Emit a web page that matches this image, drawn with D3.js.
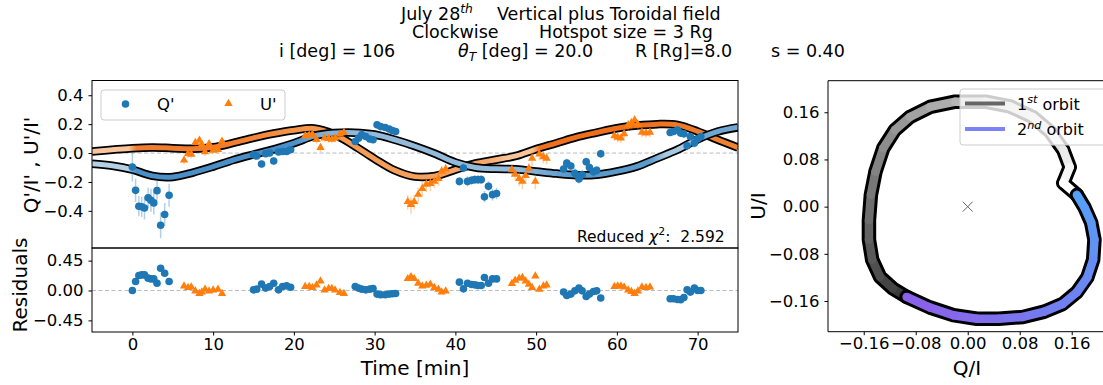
<!DOCTYPE html>
<html>
<head>
<meta charset="utf-8">
<script src="https://cdn.jsdelivr.net/npm/d3@7"></script>
<style>
  body { margin: 0; background: #fff; }
  text { font-family: "DejaVu Sans", sans-serif; white-space: pre; }
</style>
</head>
<body>
<div id="container"></div>
<script>
'use strict'

// ---------- data ----------
// Q'/I' points: time [min], value, error, residual
const qTime = [0.0,0.4,0.8,1.15,1.5,1.95,2.3,2.65,3.05,3.5,4.0,4.55,
  15.0,15.4,16.0,16.5,17.0,17.5,18.1,18.6,19.1,19.6,
  27.6,28.0,28.4,28.9,29.4,29.8,30.3,30.75,31.3,31.8,32.2,32.6,
  40.5,41.0,41.5,42.0,42.4,42.8,43.2,43.6,44.1,44.6,45.1,
  53.4,53.8,54.3,54.8,55.3,55.7,56.2,56.6,57.1,57.5,58.0,
  66.6,67.0,67.5,67.9,68.3,68.7,69.1,69.6,70.0,70.4];
const qVal = [-0.097,-0.258,-0.368,-0.372,-0.38,-0.31,-0.327,-0.345,-0.26,-0.50,-0.425,-0.292,
  -0.012,-0.02,-0.076,-0.005,0.0,-0.055,0.007,0.011,0.011,0.023,
  0.08,0.103,0.126,0.114,0.097,0.092,0.195,0.183,0.177,0.166,0.156,0.149,
  -0.196,-0.103,-0.196,-0.189,-0.184,-0.184,-0.184,-0.303,-0.23,-0.288,-0.28,
  -0.11,-0.07,-0.09,-0.14,-0.18,-0.15,-0.06,-0.1,-0.13,-0.12,-0.005,
  0.142,0.149,0.16,0.138,0.133,0.05,0.114,0.069,0.097,0.114];
const qErr = [0.1,0.08,0.07,0.07,0.08,0.07,0.08,0.08,0.07,0.09,0.08,0.08,
  0.025,0.02,0.025,0.02,0.02,0.025,0.02,0.02,0.02,0.02,
  0.02,0.02,0.02,0.025,0.02,0.02,0.02,0.02,0.02,0.02,0.02,0.02,
  0.03,0.03,0.035,0.03,0.03,0.03,0.03,0.04,0.035,0.04,0.04,
  0.03,0.03,0.03,0.035,0.03,0.035,0.03,0.03,0.03,0.03,0.03,
  0.025,0.025,0.025,0.025,0.025,0.03,0.025,0.03,0.025,0.025];
const qRes = [0.0,0.135,0.225,0.235,0.235,0.186,0.175,0.175,0.11,0.335,0.26,0.135,
  0.01,0.02,0.096,0.036,0.06,0.11,0.01,0.06,0.07,0.05,
  0.06,0.036,0.02,0.01,0.02,0.03,-0.054,-0.065,-0.065,-0.054,-0.05,-0.045,
  0.126,0.025,0.11,0.09,0.085,0.075,0.075,0.195,0.11,0.175,0.175,
  -0.024,-0.075,-0.054,-0.005,0.036,-0.005,-0.09,-0.054,-0.015,-0.005,-0.114,
  -0.124,-0.124,-0.135,-0.14,-0.105,0.01,-0.024,0.036,0.0,0.0];

// U'/I' points
const uTime = [6.4,6.9,7.3,7.8,8.3,8.6,9.0,9.5,10.0,10.6,11.1,
  21.4,21.9,22.3,22.8,23.3,23.8,24.3,24.7,25.1,25.7,26.2,
  34.1,34.5,34.9,35.4,35.9,36.4,36.9,37.4,37.9,38.3,38.8,
  47.0,47.4,47.9,48.3,48.7,49.1,49.5,49.9,50.4,50.9,51.3,
  59.7,60.1,60.5,60.9,61.4,61.8,62.2,62.6,63.1,63.6,64.1];
const uVal = [-0.053,-0.007,-0.012,0.069,0.085,0.057,0.004,0.06,0.016,0.02,0.078,
  0.115,0.12,0.126,0.09,0.035,0.1,0.097,0.092,0.1,0.126,0.138,
  -0.34,-0.36,-0.34,-0.29,-0.25,-0.22,-0.215,-0.2,-0.18,-0.13,-0.115,
  -0.12,-0.15,-0.18,-0.2,-0.16,-0.11,-0.04,-0.2,-0.01,-0.03,-0.04,
  0.115,0.105,0.1,0.13,0.19,0.205,0.225,0.195,0.14,0.135,0.14];
const uErr = [0.025,0.025,0.025,0.025,0.025,0.025,0.025,0.025,0.025,0.025,0.025,
  0.025,0.025,0.025,0.025,0.03,0.025,0.025,0.025,0.025,0.025,0.025,
  0.05,0.06,0.05,0.05,0.05,0.05,0.05,0.04,0.05,0.04,0.04,
  0.04,0.04,0.05,0.05,0.04,0.04,0.05,0.05,0.04,0.04,0.04,
  0.03,0.03,0.03,0.03,0.035,0.035,0.035,0.03,0.03,0.03,0.03];
const uRes = [0.06,0.036,0.045,-0.015,-0.054,-0.03,0.01,-0.015,0.0,0.01,-0.054,
  0.05,0.05,0.036,0.075,0.135,0.0,0.02,0.02,0.0,-0.04,-0.054,
  0.17,0.2,0.17,0.1,0.06,0.07,0.085,0.036,0.01,-0.03,-0.015,
  0.096,0.145,0.175,0.186,0.135,0.085,0.036,0.21,0.01,0.06,0.075,
  0.05,0.06,0.06,0.045,0.0,-0.024,-0.054,-0.015,0.045,0.036,0.045];

// model curves
const modelTime = [-5,-2.5,0,2.5,5,7.5,10,12.5,15,17.5,20,22.5,25,27.5,30,32.5,35,37.5,40,42.5,45,47.5,50,52.5,55,57.5,60,62.5,65,67.5,70,72.5,75];
const modelQ = [-0.074,-0.088,-0.115,-0.158,-0.165,-0.135,-0.094,-0.048,-0.01,0.026,0.068,0.118,0.138,0.141,0.128,0.092,0.047,-0.005,-0.065,-0.1,-0.109,-0.112,-0.127,-0.142,-0.153,-0.15,-0.127,-0.092,-0.035,0.023,0.095,0.149,0.178];
const modelU = [0.011,0.023,0.034,0.039,0.034,0.03,0.04,0.07,0.105,0.135,0.158,0.17,0.13,0.05,-0.04,-0.12,-0.163,-0.158,-0.115,-0.072,-0.046,-0.02,0.027,0.068,0.11,0.142,0.172,0.19,0.2,0.195,0.15,0.092,0.038];

// Q/I - U/I loop
const orbit1Q = [-0.094,-0.115,-0.135,-0.147,-0.152,-0.152,-0.149,-0.142,-0.130,-0.112,-0.089,-0.058,-0.019,0.027,0.065,0.100,0.127,0.147,0.157,0.147,0.168];
const orbit1U = [-0.153,-0.139,-0.119,-0.090,-0.056,-0.023,0.020,0.059,0.099,0.130,0.152,0.169,0.178,0.178,0.170,0.152,0.127,0.096,0.067,0.040,0.020];
const orbit2Q = [0.168,0.180,0.190,0.195,0.193,0.184,0.168,0.146,0.118,0.085,0.048,0.014,-0.022,-0.058,-0.094];
const orbit2U = [0.020,-0.002,-0.027,-0.056,-0.090,-0.120,-0.145,-0.165,-0.178,-0.187,-0.190,-0.190,-0.184,-0.171,-0.153];

// ticks
const timeTicks = [0,10,20,30,40,50,60,70];
const polTicks = [-0.4,-0.2,0,0.2,0.4];
const resTicks = [-0.45,0,0.45];
const loopTicks = [-0.16,-0.08,0,0.08,0.16];

// ---------- drawing ----------
const w = 1103, h = 385;
const blue = "#1f77b4", orange = "#ff7f0e";
const svg = d3.select("#container").append("svg").attr("width", w).attr("height", h);
const defs = svg.append("defs");

const x = d3.scaleLinear().domain([-5, 75]).range([92, 738]);
const yTop = d3.scaleLinear().domain([-0.657, 0.502]).range([248, 80.5]);
const yRes = d3.scaleLinear().domain([-0.625, 0.64]).range([332, 248]);
const xR = d3.scaleLinear().domain([-0.215, 0.212]).range([828, 1105.5]);
const yR = d3.scaleLinear().domain([-0.212, 0.2135]).range([331.7, 80.7]);

// text with super / subscripts
function rich(g, px, py, parts, size, anchor) {
  const t = g.append("text").attr("x", px).attr("y", py).attr("font-size", size)
    .attr("text-anchor", anchor || "start").attr("fill", "#000");
  let shift = 0;
  parts.forEach(p => {
    const s = typeof p === "string" ? { t: p } : p;
    const want = s.sup ? -0.4 * size : s.sub ? 0.22 * size : 0;
    const ts = t.append("tspan").attr("dy", want - shift).text(s.t);
    if (s.sup || s.sub) ts.attr("font-size", size * 0.7);
    if (s.it) ts.attr("font-style", "italic");
    shift = want;
  });
  return t;
}

//Title
const tf = 17.5;
rich(svg, 401, 19.5, ["July 28", { t: "th", sup: true, it: true }], tf);
rich(svg, 497, 19.5, ["Vertical plus Toroidal field"], tf);
rich(svg, 412, 38, ["Clockwise"], tf);
rich(svg, 539, 38, ["Hotspot size = 3 Rg"], tf);
rich(svg, 279, 57, ["i [deg] = 106"], tf);
rich(svg, 458, 57, [{ t: "θ", it: true }, { t: "T", sub: true, it: true }, " [deg] = 20.0"], tf);
rich(svg, 635, 57, ["R [Rg]=8.0"], tf);
rich(svg, 771, 57, ["s = 0.40"], tf);

function styleAxis(g) {
  g.attr("font-size", 16.5).attr("font-family", "'DejaVu Sans', sans-serif");
  g.select(".domain").remove();
  g.selectAll(".tick line").attr("stroke", "#000");
  g.selectAll(".tick text").attr("fill", "#000");
}

// clip for the panels
defs.append("clipPath").attr("id", "clipTop").append("rect")
  .attr("x", 92).attr("y", 80.5).attr("width", 646).attr("height", 167.5);
defs.append("clipPath").attr("id", "clipRes").append("rect")
  .attr("x", 92).attr("y", 248).attr("width", 646).attr("height", 84);
defs.append("clipPath").attr("id", "clipLoop").append("rect")
  .attr("x", 828).attr("y", 80.7).attr("width", 280).attr("height", 251);

// zero lines
svg.append("line").attr("x1", 92).attr("x2", 738).attr("y1", yTop(0)).attr("y2", yTop(0))
  .attr("stroke", "#bbb").attr("stroke-dasharray", "4,2.5");
svg.append("line").attr("x1", 92).attr("x2", 738).attr("y1", yRes(0)).attr("y2", yRes(0))
  .attr("stroke", "#bbb").attr("stroke-dasharray", "4,2.5");

// model curves, shaded along time with a horizontal gradient
function gradient(id, stops) {
  const g = defs.append("linearGradient").attr("id", id).attr("gradientUnits", "userSpaceOnUse")
    .attr("x1", x(-5)).attr("x2", x(75)).attr("y1", 0).attr("y2", 0);
  stops.forEach(s => g.append("stop").attr("offset", (s[0] + 5) / 80).attr("stop-color", s[1]));
}
gradient("gradQ", [[-5, "#b3d0e6"], [-0.5, "#b3d0e6"], [0.5, "#4a8fc6"], [20, "#4a8fc6"], [23, "#7eaed3"],
  [28, "#92bada"], [48, "#92bada"], [54, "#5a9bcc"], [64, "#5a9bcc"], [66, "#a6c8e2"], [69.5, "#a6c8e2"], [71, "#6ea8d2"], [75, "#6ea8d2"]]);
gradient("gradU", [[-5, "#f9c59c"], [-0.5, "#f9c59c"], [0.5, "#f07d2e"], [12, "#f07d2e"], [20, "#f39448"],
  [44, "#f6a86a"], [46.5, "#f9c598"], [49.5, "#f9c598"], [50.5, "#ee6f1c"], [63, "#ee6f1c"], [75, "#f08535"]]);

const curveG = svg.append("g").attr("clip-path", "url(#clipTop)");
const modelLine = d3.line().x(d => x(d[0])).y(d => yTop(d[1])).curve(d3.curveCatmullRom);
[[modelU, "gradU"], [modelQ, "gradQ"]].forEach(m => {
  const pts = modelTime.map((t, i) => [t, m[0][i]]);
  curveG.append("path").attr("d", modelLine(pts)).attr("fill", "none").attr("stroke", "#000").attr("stroke-width", 8.5);
  curveG.append("path").attr("d", modelLine(pts)).attr("fill", "none").attr("stroke", "url(#" + m[1] + ")").attr("stroke-width", 5);
});

// error bars and points
const tri = d3.symbol().type(d3.symbolTriangle).size(30);
function drawSeries(g, times, vals, errs, color, shape, yScale) {
  if (errs) {
    g.selectAll(null).data(times).enter().append("line")
      .attr("x1", d => x(d)).attr("x2", d => x(d))
      .attr("y1", (d, i) => yScale(vals[i] - errs[i])).attr("y2", (d, i) => yScale(vals[i] + errs[i]))
      .attr("stroke", color).attr("stroke-opacity", 0.35).attr("stroke-width", 1.5);
  }
  if (shape === "circle") {
    g.selectAll(null).data(times).enter().append("circle")
      .attr("cx", d => x(d)).attr("cy", (d, i) => yScale(vals[i])).attr("r", 3.8).attr("fill", color);
  } else {
    g.selectAll(null).data(times).enter().append("path").attr("d", tri)
      .attr("transform", (d, i) => "translate(" + x(d) + "," + (yScale(vals[i]) - 0.5) + ")").attr("fill", color);
  }
}
const ptsG = svg.append("g").attr("clip-path", "url(#clipTop)");
drawSeries(ptsG, qTime, qVal, qErr, blue, "circle", yTop);
drawSeries(ptsG, uTime, uVal, uErr, orange, "tri", yTop);
const resG = svg.append("g").attr("clip-path", "url(#clipRes)");
drawSeries(resG, qTime, qRes, null, blue, "circle", yRes);
drawSeries(resG, uTime, uRes, null, orange, "tri", yRes);

// frames
svg.append("rect").attr("x", 92).attr("y", 80.5).attr("width", 646).attr("height", 167.5)
  .attr("fill", "none").attr("stroke", "#000");
svg.append("rect").attr("x", 92).attr("y", 248).attr("width", 646).attr("height", 84)
  .attr("fill", "none").attr("stroke", "#000");

//Axes
svg.append("g").attr("transform", "translate(92,0)")
  .call(d3.axisLeft(yTop).tickValues(polTicks).tickFormat(d3.format(".1f")).tickSize(3.5).tickPadding(5)).call(styleAxis);
svg.append("g").attr("transform", "translate(92,0)")
  .call(d3.axisLeft(yRes).tickValues(resTicks).tickFormat(d3.format(".2f")).tickSize(3.5).tickPadding(5)).call(styleAxis);
svg.append("g").attr("transform", "translate(0,332)")
  .call(d3.axisBottom(x).tickValues(timeTicks).tickFormat(d3.format("d")).tickSize(3.5).tickPadding(2.5)).call(styleAxis);

// legend (left)
svg.append("rect").attr("x", 101).attr("y", 90).attr("width", 184).attr("height", 30).attr("rx", 3)
  .attr("fill", "#fff").attr("fill-opacity", 0.8).attr("stroke", "#ccc");
svg.append("circle").attr("cx", 125.5).attr("cy", 104).attr("r", 3.8).attr("fill", blue);
rich(svg, 157, 110, ["Q'"], 16.5);
svg.append("path").attr("d", tri).attr("transform", "translate(228.5,103.5)").attr("fill", orange);
rich(svg, 260, 110, ["U'"], 16.5);

// reduced chi2
rich(svg, 577, 241.5, ["Reduced ", { t: "χ", it: true }, { t: "2", sup: true }, ":  2.592"], 15.5);

// axis labels
svg.append("text").attr("transform", "translate(38,165) rotate(-90)").attr("text-anchor", "middle")
  .attr("font-size", 20).text("Q'/I' , U'/I'");
svg.append("text").attr("transform", "translate(27,285) rotate(-90)").attr("text-anchor", "middle")
  .attr("font-size", 20).text("Residuals");
svg.append("text").attr("x", 415).attr("y", 375).attr("text-anchor", "middle")
  .attr("font-size", 20).text("Time [min]");

// ---------- Q/I - U/I loop ----------
const loopG = svg.append("g").attr("clip-path", "url(#clipLoop)");
function drawOrbit(qs, us, c0, c1) {
  const pts = qs.map((q, i) => [xR(q), yR(us[i])]);
  loopG.append("path").attr("d", d3.line()(pts)).attr("fill", "none").attr("stroke", "#000")
    .attr("stroke-width", 14.5).attr("stroke-linejoin", "round").attr("stroke-linecap", "round");
  const col = d3.interpolateRgb(c0, c1);
  for (let i = 0; i < pts.length - 1; i++) {
    loopG.append("line").attr("x1", pts[i][0]).attr("y1", pts[i][1]).attr("x2", pts[i + 1][0]).attr("y2", pts[i + 1][1])
      .attr("stroke", col(i / (pts.length - 2))).attr("stroke-width", 8.5).attr("stroke-linecap", "round");
  }
}
drawOrbit(orbit1Q, orbit1U, "#3a3a3a", "#ffffff");
drawOrbit(orbit2Q, orbit2U, "#55a0f7", "#8a62ea");

// centre cross
const cx0 = xR(0), cy0 = yR(0);
svg.append("path").attr("d", `M${cx0 - 5},${cy0 - 5}L${cx0 + 5},${cy0 + 5}M${cx0 - 5},${cy0 + 5}L${cx0 + 5},${cy0 - 5}`)
  .attr("stroke", "#666").attr("stroke-width", 1);

// loop frame (right spine is outside the window)
svg.append("path").attr("d", "M1110,80.7H828V331.7H1110").attr("fill", "none").attr("stroke", "#000");

svg.append("g").attr("transform", "translate(828,0)")
  .call(d3.axisLeft(yR).tickValues(loopTicks).tickFormat(d3.format(".2f")).tickSize(3.5).tickPadding(5)).call(styleAxis);
svg.append("g").attr("transform", "translate(0,331.7)")
  .call(d3.axisBottom(xR).tickValues(loopTicks).tickFormat(d3.format(".2f")).tickSize(3.5).tickPadding(2.5)).call(styleAxis);

// legend (right)
svg.append("rect").attr("x", 960).attr("y", 89).attr("width", 150).attr("height", 56).attr("rx", 3)
  .attr("fill", "#fff").attr("fill-opacity", 0.8).attr("stroke", "#ccc");
svg.append("line").attr("x1", 965).attr("x2", 1005).attr("y1", 103.5).attr("y2", 103.5).attr("stroke", "#666").attr("stroke-width", 4);
svg.append("line").attr("x1", 965).attr("x2", 1005).attr("y1", 129).attr("y2", 129).attr("stroke", "#7b84f7").attr("stroke-width", 4);
rich(svg, 1017, 109.5, ["1", { t: "st", sup: true, it: true }, " orbit"], 16);
rich(svg, 1017, 135, ["2", { t: "nd", sup: true, it: true }, " orbit"], 16);

svg.append("text").attr("transform", "translate(765,206) rotate(-90)").attr("text-anchor", "middle")
  .attr("font-size", 20).text("U/I");
svg.append("text").attr("x", 967).attr("y", 375).attr("text-anchor", "middle")
  .attr("font-size", 20).text("Q/I");
</script>
</body>
</html>
